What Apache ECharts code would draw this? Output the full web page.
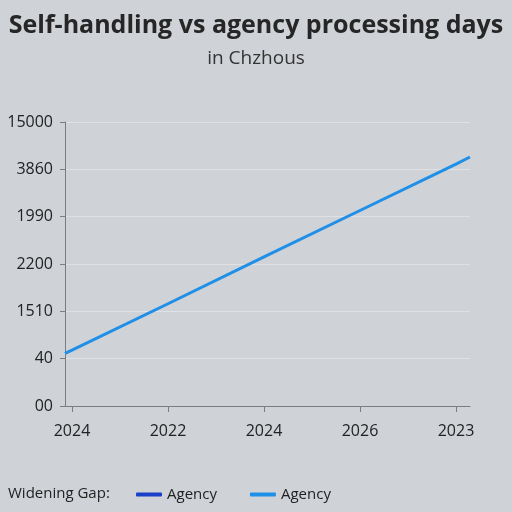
<!DOCTYPE html>
<html><head><meta charset="utf-8">
<script src="https://cdn.jsdelivr.net/npm/echarts@6/dist/echarts.min.js"></script>
<style>html,body{margin:0;padding:0;background:#cfd2d7}#c{width:512px;height:512px}</style>
</head><body><div id="c"></div>
<script>
const yTickLabels = ['00', '40', '1510', '2200', '1990', '3860', '15000'];
const xTickLabels = ['2024', '2022', '2024', '2026', '2023'];
const xTickPos = [0, 1, 2, 3, 4];
const agencyDarkX = [];
const agencyDarkY = [];
const agencyLightX = [-0.073, 0, 1, 2, 3, 4, 4.146];
const agencyLightY = [1.11, 1.18, 2.16, 3.15, 4.13, 5.11, 5.26];
const seriesNames = ['Agency', 'Agency '];

const chart = echarts.init(document.getElementById('c'));
const font = 'Open Sans';
chart.setOption({
  backgroundColor: '#cfd2d7',
  animation: false,
  title: [
    {text: 'Self-handling vs agency processing days', left: 'center', top: 8,
     textStyle: {fontFamily: font, fontSize: 25, fontWeight: 'bold', color: '#262626'}},
    {text: 'in Chzhous', left: 'center', top: 44,
     textStyle: {fontFamily: font, fontSize: 19, fontWeight: 'normal', color: '#333'}},
    {text: 'Widening Gap:', left: 3, top: 481,
     textStyle: {fontFamily: font, fontSize: 15, fontWeight: 'normal', color: '#222'}}
  ],
  legend: {
    left: 131, top: 482, itemGap: 33, itemWidth: 26, itemHeight: 4, icon: 'roundRect',
    data: seriesNames,
    formatter: n => n.trim(),
    textStyle: {fontFamily: font, fontSize: 15, color: '#222'}
  },
  grid: {left: 65, right: 42, top: 122, bottom: 106},
  xAxis: {
    type: 'value', min: -0.073, max: 4.146,
    axisLine: {show: true, onZero: false, lineStyle: {color: '#7a7c80', width: 1}},
    axisTick: {show: true, length: 6, customValues: xTickPos, lineStyle: {color: '#7a7c80'}},
    axisLabel: {customValues: xTickPos, formatter: v => xTickLabels[Math.round(v)],
      fontFamily: font, fontSize: 16, color: '#222', margin: 17},
    splitLine: {show: false}
  },
  yAxis: {
    type: 'value', min: 0, max: 6, interval: 1,
    axisLine: {show: true, onZero: false, lineStyle: {color: '#7a7c80', width: 1}},
    axisTick: {show: true, length: 5, lineStyle: {color: '#7a7c80'}},
    axisLabel: {formatter: v => yTickLabels[Math.round(v)], fontFamily: font, fontSize: 16, color: '#222', margin: 12},
    splitLine: {show: true, lineStyle: {color: '#dfe1e5', width: 1}}
  },
  series: [
    {name: seriesNames[0], type: 'line', showSymbol: false, color: '#1a3fc8',
     lineStyle: {width: 3}, data: agencyDarkX.map((x, i) => [x, agencyDarkY[i]])},
    {name: seriesNames[1], type: 'line', showSymbol: false, color: '#1f8fe8',
     lineStyle: {width: 3}, data: agencyLightX.map((x, i) => [x, agencyLightY[i]])}
  ]
});
</script></body></html>
